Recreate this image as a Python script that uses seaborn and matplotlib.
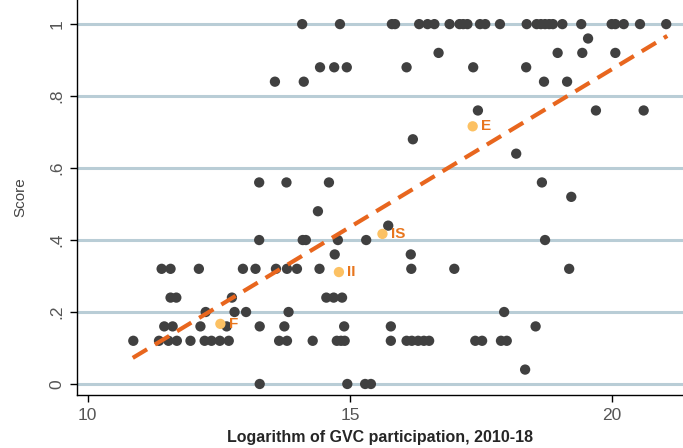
import matplotlib
matplotlib.use("Agg")
import matplotlib.pyplot as plt
import seaborn as sns
import numpy as np
import pandas as pd

# score levels and the log GVC values of the economies sitting at each level
score_rows = {
    1.00: [14.09, 14.81, 15.80, 15.86, 16.32, 16.48, 16.61, 16.90, 17.09, 17.16, 17.24,
           17.48, 17.58, 17.86, 18.37, 18.56, 18.64, 18.72, 18.80, 18.87, 19.05, 19.41,
           19.99, 20.06, 20.22, 20.53, 21.03],
    0.96: [19.54],
    0.92: [16.69, 18.96, 19.43, 20.06],
    0.88: [14.43, 14.70, 14.94, 16.08, 17.35, 18.36],
    0.84: [13.57, 14.12, 18.70, 19.14],
    0.76: [17.44, 19.69, 20.60],
    0.68: [16.20],
    0.64: [18.17],
    0.56: [13.27, 13.79, 14.60, 18.66],
    0.52: [19.22],
    0.48: [14.39],
    0.44: [15.73],
    0.40: [13.27, 14.10, 14.16, 14.77, 15.31, 18.72],
    0.36: [14.71, 16.16],
    0.32: [11.41, 11.58, 12.12, 12.96, 13.20, 13.59, 13.80, 13.99, 14.42, 16.17, 16.99, 19.18],
    0.24: [11.58, 11.69, 12.75, 14.55, 14.69, 14.85],
    0.20: [12.25, 12.80, 13.02, 13.83, 17.94],
    0.16: [11.46, 11.62, 12.15, 12.65, 13.28, 13.75, 14.89, 15.78, 18.54],
    0.12: [10.87, 11.36, 11.54, 11.70, 11.96, 12.23, 12.36, 12.52, 12.69, 13.65, 13.80,
           14.29, 14.75, 14.83, 14.90, 15.78, 16.08, 16.18, 16.30, 16.41, 16.51, 17.39,
           17.52, 17.88, 17.99],
    0.04: [18.34],
    0.00: [13.28, 14.95, 15.29, 15.40],
}

# highlighted group averages
hl_labels = ["F", "II", "IS", "E"]
hl_x = [12.53, 14.79, 15.62, 17.34]
hl_y = [0.167, 0.311, 0.417, 0.716]

# fitted line
fit_x = [10.86, 21.05]
fit_slope = 0.0878
fit_intercept = -0.881

xticks = [10, 15, 20]
yticks = [0, 0.2, 0.4, 0.6, 0.8, 1]
ytick_labels = ["0", ".2", ".4", ".6", ".8", "1"]

df = pd.DataFrame([(x, s) for s, xs in score_rows.items() for x in xs], columns=["gvc", "score"])
hl = pd.DataFrame({"gvc": hl_x, "score": hl_y, "label": hl_labels})
fit = pd.DataFrame({"gvc": fit_x})
fit["score"] = fit_intercept + fit_slope * fit["gvc"]

sns.set_style("white")
plt.rcParams["font.family"] = ["Liberation Sans", "DejaVu Sans"]

fig = plt.figure(figsize=(6.83, 4.48), dpi=100)
ax = fig.add_axes([0.113, 0.118, 0.887, 0.882])

for t in yticks:
    ax.axhline(t, color="#b9cdd6", lw=2.2, zorder=0)

sns.scatterplot(data=df, x="gvc", y="score", color="#404040", s=55, edgecolor="none", ax=ax, zorder=3)
sns.lineplot(data=fit, x="gvc", y="score", color="#e8661e", lw=3, ax=ax, zorder=4)
ax.lines[-1].set_dashes([4, 2.2])
sns.scatterplot(data=hl, x="gvc", y="score", color="#fcc163", s=55, edgecolor="none", ax=ax, zorder=5)
for _, r in hl.iterrows():
    ax.text(r["gvc"] + 0.16, r["score"], r["label"], color="#e8761e", fontsize=11,
            fontweight="bold", va="center", ha="left", zorder=6)

ax.set_xlim(9.8, 21.35)
ax.set_ylim(-0.031, 1.067)
ax.set_xticks(xticks)
ax.set_yticks(yticks)
ax.set_yticklabels(ytick_labels, rotation=90, va="center")
ax.tick_params(axis="both", direction="out", length=5, width=1, color="black",
               labelsize=12.5, labelcolor="#555555", left=True, bottom=True, pad=4)
for side in ["top", "right"]:
    ax.spines[side].set_visible(False)
for side in ["left", "bottom"]:
    ax.spines[side].set_color("black")
    ax.spines[side].set_linewidth(1)

ax.set_xlabel("Logarithm of GVC participation, 2010-18", fontsize=11.5, fontweight="bold", labelpad=5)
ax.set_ylabel("Score", fontsize=11, color="#444444", labelpad=16)

fig.savefig("out.png", dpi=100)
